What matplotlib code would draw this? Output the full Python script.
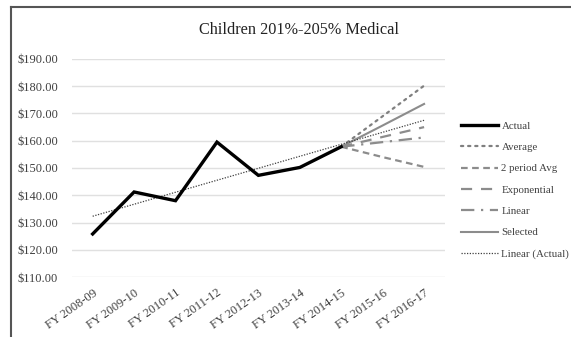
import matplotlib
matplotlib.use("Agg")
import matplotlib.pyplot as plt
from matplotlib.lines import Line2D
import numpy as np

plt.rcParams['font.family'] = ['Liberation Serif', 'DejaVu Serif']

categories = ["FY 2008-09", "FY 2009-10", "FY 2010-11", "FY 2011-12", "FY 2012-13",
              "FY 2013-14", "FY 2014-15", "FY 2015-16", "FY 2016-17"]
actual = [125.8, 141.2, 138.0, 159.5, 147.3, 150.2, 157.8]

# projections start from the last actual year (FY 2014-15)
average_proj = [157.8, 169.0, 180.2]
two_period_proj = [157.8, 154.0, 150.4]
exponential_proj = [157.8, 161.4, 165.0]
linear_proj = [157.8, 159.5, 161.2]
selected_proj = [157.8, 165.6, 173.5]
# trendline through the actuals, first and last category
linear_actual_ends = [132.3, 167.5]

yticks = [110, 120, 130, 140, 150, 160, 170, 180, 190]

fig = plt.figure(figsize=(5.71, 3.37), dpi=100)
ax = fig.add_axes([0.126, 0.178, 0.653, 0.647])

x = np.arange(len(categories))
xa = x[:len(actual)]
xp = x[len(actual) - 1:]

ax.plot(xa, actual, color='black', lw=2.4, solid_joinstyle='miter', zorder=5)
ax.plot(xp, average_proj, color='#7f7f7f', lw=1.6, linestyle=(0, (1, 2.2)),
        dash_capstyle='round', zorder=3)
ax.plot(xp, two_period_proj, color='#8c8c8c', lw=1.6, linestyle=(0, (3, 2)), zorder=3)
ax.plot(xp, exponential_proj, color='#8c8c8c', lw=1.6, linestyle=(0, (5, 4)), zorder=3)
ax.plot(xp, linear_proj, color='#8c8c8c', lw=1.6, linestyle=(0, (6, 3, 1, 3)), zorder=3)
ax.plot(xp, selected_proj, color='#8c8c8c', lw=1.5, zorder=3)
ax.plot([x[0], x[-1]], linear_actual_ends, color='#404040', lw=0.9,
        linestyle=(0, (1, 1.2)), zorder=4)

ax.set_xlim(-0.5, len(categories) - 0.5)
ax.set_ylim(110, 190)
ax.set_yticks(yticks)
ax.set_yticklabels([f"${v:.2f}" for v in yticks], fontsize=9, color='#404040')
ax.set_xticks(x)
ax.set_xticklabels(categories, fontsize=9, color='#404040', rotation=35,
                   ha='right', va='top', rotation_mode='anchor')
ax.tick_params(length=0, pad=10)
ax.tick_params(axis='x', pad=7)
ax.grid(axis='y', color='#e0e0e0', lw=1)
ax.set_axisbelow(True)
for s in ax.spines.values():
    s.set_visible(False)

fig.text(0.524, 0.91, "Children 201%-205% Medical", ha='center', va='center',
         fontsize=11.7, color='#222222')

handles = [
    Line2D([], [], color='black', lw=2.4),
    Line2D([], [], color='#7f7f7f', lw=1.6, linestyle=(0, (1, 2.2)), dash_capstyle='round'),
    Line2D([], [], color='#8c8c8c', lw=1.6, linestyle=(0, (3, 2))),
    Line2D([], [], color='#8c8c8c', lw=1.6, linestyle=(0, (5, 4))),
    Line2D([], [], color='#8c8c8c', lw=1.6, linestyle=(0, (6, 3, 1, 3))),
    Line2D([], [], color='#8c8c8c', lw=1.5),
    Line2D([], [], color='#404040', lw=0.9, linestyle=(0, (1, 1.2))),
]
labels = ["Actual", "Average", "2 period Avg", "Exponential", "Linear", "Selected",
          "Linear (Actual)"]
leg = fig.legend(handles, labels, loc='upper left', bbox_to_anchor=(0.808, 0.64),
                 frameon=False, fontsize=7.8, handlelength=3.4, handletextpad=0.3,
                 labelspacing=1.08, borderaxespad=0, borderpad=0)
for t in leg.get_texts():
    t.set_color('#404040')

# outer frame, top and left edges
fig.add_artist(Line2D([11 / 571, 1], [1 - 7 / 337, 1 - 7 / 337], color='#555555', lw=1.5,
                      transform=fig.transFigure))
fig.add_artist(Line2D([11 / 571, 11 / 571], [0, 1 - 7 / 337], color='#555555', lw=1.5,
                      transform=fig.transFigure))

fig.savefig("out.png", dpi=100)
